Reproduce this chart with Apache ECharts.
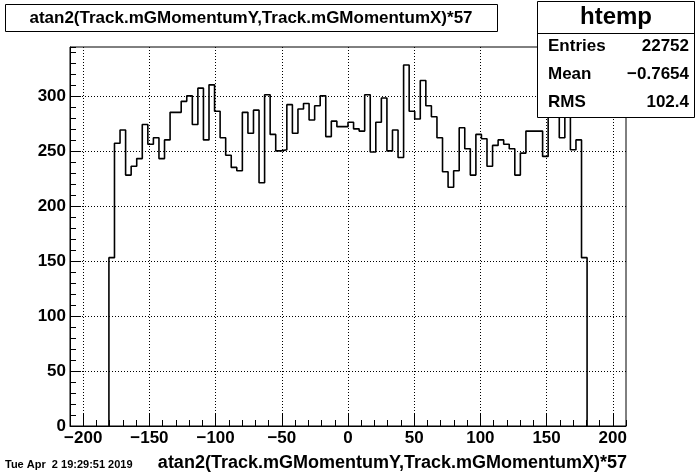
<!DOCTYPE html>
<html><head><meta charset="utf-8">
<script src="https://cdn.jsdelivr.net/npm/echarts@6/dist/echarts.min.js"></script>
<style>html,body{margin:0;padding:0;background:#fff}#c{width:696px;height:474px}</style>
</head><body><div id="c"></div>
<script>
// ---- data ----
const binStart = -180.6;   // left edge of first filled bin
const binWidth = 4.2;      // 100 bins over [-210, 210]
const counts = [
  153,
  257, 269, 228, 236, 243, 274, 256, 262, 243, 260, 285, 285, 295, 300, 274, 307, 260, 310, 286, 262,
  246, 235, 232, 285, 266, 287, 221, 301, 265, 250, 251, 292, 266, 288, 293, 278, 291, 300, 263, 277, 272, 272,
  276, 270, 268, 301, 249, 276, 298, 250, 269, 244, 328, 286, 279, 314, 291, 281, 262, 231, 217, 232, 271,
  252, 228, 265, 261, 236, 255, 260, 256, 252, 228, 248, 268, 268, 268, 245, 296, 290, 262, 287, 251, 260,
  153
];
const xRange = [-210, 210];
const yMax = 344.4;
const xMajor = [-200, 200, 50];   // first, last, step of labelled ticks
const yMajor = [0, 300, 50];
const minorStep = 10;
const titleText = 'atan2(Track.mGMomentumY,Track.mGMomentumX)*57';
const statsName = 'htemp';
const statsLabels = ['Entries', 'Mean', 'RMS'];
const statsValues = ['22752', '\u22120.7654', '102.4'];
const dateText = 'Tue Apr  2 19:29:51 2019';

// ---- build ----
const pts = [[binStart, 0]];
counts.forEach((c, i) => pts.push([binStart + i * binWidth, c]));
pts.push([binStart + counts.length * binWidth, 0]);

const F = '"Liberation Sans", Arial, Helvetica, sans-serif';
const L = 70, R = 70, T = 47, B = 48;
const W = 696 - L - R, H = 474 - T - B;
const kx = W / (xRange[1] - xRange[0]);
const ky = H / yMax;
const dotted = {show: true, lineStyle: {color: '#000', width: 1, type: [1, 2]}};
const lab = {color: '#000', fontFamily: F, fontWeight: 'bold', fontSize: 17, margin: 4};
const fmt = v => v < 0 ? '\u2212' + (-v) : String(v);

const chart = echarts.init(document.getElementById('c'), null, {renderer: 'canvas'});
chart.setOption({
  animation: false,
  backgroundColor: '#fff',
  grid: [
    {left: L, right: R, top: T, bottom: B, show: true, borderColor: '#000', borderWidth: 1},
    {left: L + (xMajor[0] - xRange[0]) * kx, right: R + (xRange[1] - xMajor[1]) * kx, top: T, bottom: B},
    {left: L, right: R, top: T + (yMax - yMajor[1]) * ky, bottom: B}
  ],
  xAxis: [
    {gridIndex: 0, type: 'value', min: xRange[0], max: xRange[1], interval: minorStep,
     axisLine: {show: true, onZero: false, lineStyle: {color: '#000', width: 1}},
     axisTick: {show: true, inside: true, length: 6, lineStyle: {color: '#000', width: 1}},
     axisLabel: {show: false}, splitLine: {show: false}},
    {gridIndex: 1, type: 'value', min: xMajor[0], max: xMajor[1], interval: xMajor[2],
     axisLine: {show: false, onZero: false},
     axisTick: {show: true, inside: true, length: 12, lineStyle: {color: '#000', width: 1}},
     axisLabel: Object.assign({show: true, formatter: fmt}, lab),
     splitLine: dotted},
    {gridIndex: 2, type: 'value', show: false, min: 0, max: 1, axisLine: {onZero: false}}
  ],
  yAxis: [
    {gridIndex: 0, type: 'value', min: 0, max: yMax, interval: minorStep,
     axisLine: {show: true, onZero: false, lineStyle: {color: '#000', width: 1}},
     axisTick: {show: true, inside: true, length: 6, lineStyle: {color: '#000', width: 1}},
     axisLabel: {show: false}, splitLine: {show: false}},
    {gridIndex: 1, type: 'value', show: false, min: 0, max: 1, axisLine: {onZero: false}},
    {gridIndex: 2, type: 'value', min: yMajor[0], max: yMajor[1], interval: yMajor[2],
     axisLine: {show: false, onZero: false},
     axisTick: {show: true, inside: true, length: 11, lineStyle: {color: '#000', width: 1}},
     axisLabel: Object.assign({show: true, formatter: fmt}, lab),
     splitLine: dotted}
  ],
  series: [{
    type: 'line', xAxisIndex: 0, yAxisIndex: 0, step: 'end', data: pts,
    showSymbol: false, symbol: 'none', silent: true, z: 5,
    lineStyle: {color: '#000', width: 1.6}
  }],
  graphic: [
    {type: 'rect', z: 100, shape: {x: 5.5, y: 4.5, width: 492, height: 27},
     style: {fill: '#fff', stroke: '#000', lineWidth: 1}},
    {type: 'text', z: 101, x: 251, y: 18,
     style: {text: titleText, font: 'bold 17px ' + F, fill: '#000', textAlign: 'center', textVerticalAlign: 'middle', align: 'center', verticalAlign: 'middle'}},
    {type: 'rect', z: 100, shape: {x: 537.5, y: 1.5, width: 157, height: 116},
     style: {fill: '#fff', stroke: '#000', lineWidth: 1}},
    {type: 'line', z: 101, shape: {x1: 537.5, y1: 33.5, x2: 694.5, y2: 33.5},
     style: {stroke: '#000', lineWidth: 1}},
    {type: 'text', z: 101, x: 616, y: 17,
     style: {text: statsName, font: 'bold 24px ' + F, fill: '#000', textAlign: 'center', textVerticalAlign: 'middle', align: 'center', verticalAlign: 'middle'}},
    ...statsLabels.map((s, i) => ({type: 'text', z: 101, x: 548, y: 46 + 28 * i,
     style: {text: s, font: 'bold 17px ' + F, fill: '#000', textAlign: 'left', textVerticalAlign: 'middle', align: 'left', verticalAlign: 'middle'}})),
    ...statsValues.map((s, i) => ({type: 'text', z: 101, x: 689, y: 46 + 28 * i,
     style: {text: s, font: 'bold 17px ' + F, fill: '#000', textAlign: 'right', textVerticalAlign: 'middle', align: 'right', verticalAlign: 'middle'}})),
    {type: 'text', z: 101, x: 627, y: 463,
     style: {text: titleText, font: 'bold 18px ' + F, fill: '#000', textAlign: 'right', textVerticalAlign: 'middle', align: 'right', verticalAlign: 'middle'}},
    {type: 'text', z: 101, x: 5, y: 465,
     style: {text: dateText, font: 'bold 11px ' + F, fill: '#000', textAlign: 'left', textVerticalAlign: 'middle', align: 'left', verticalAlign: 'middle'}}
  ]
});
</script></body></html>
